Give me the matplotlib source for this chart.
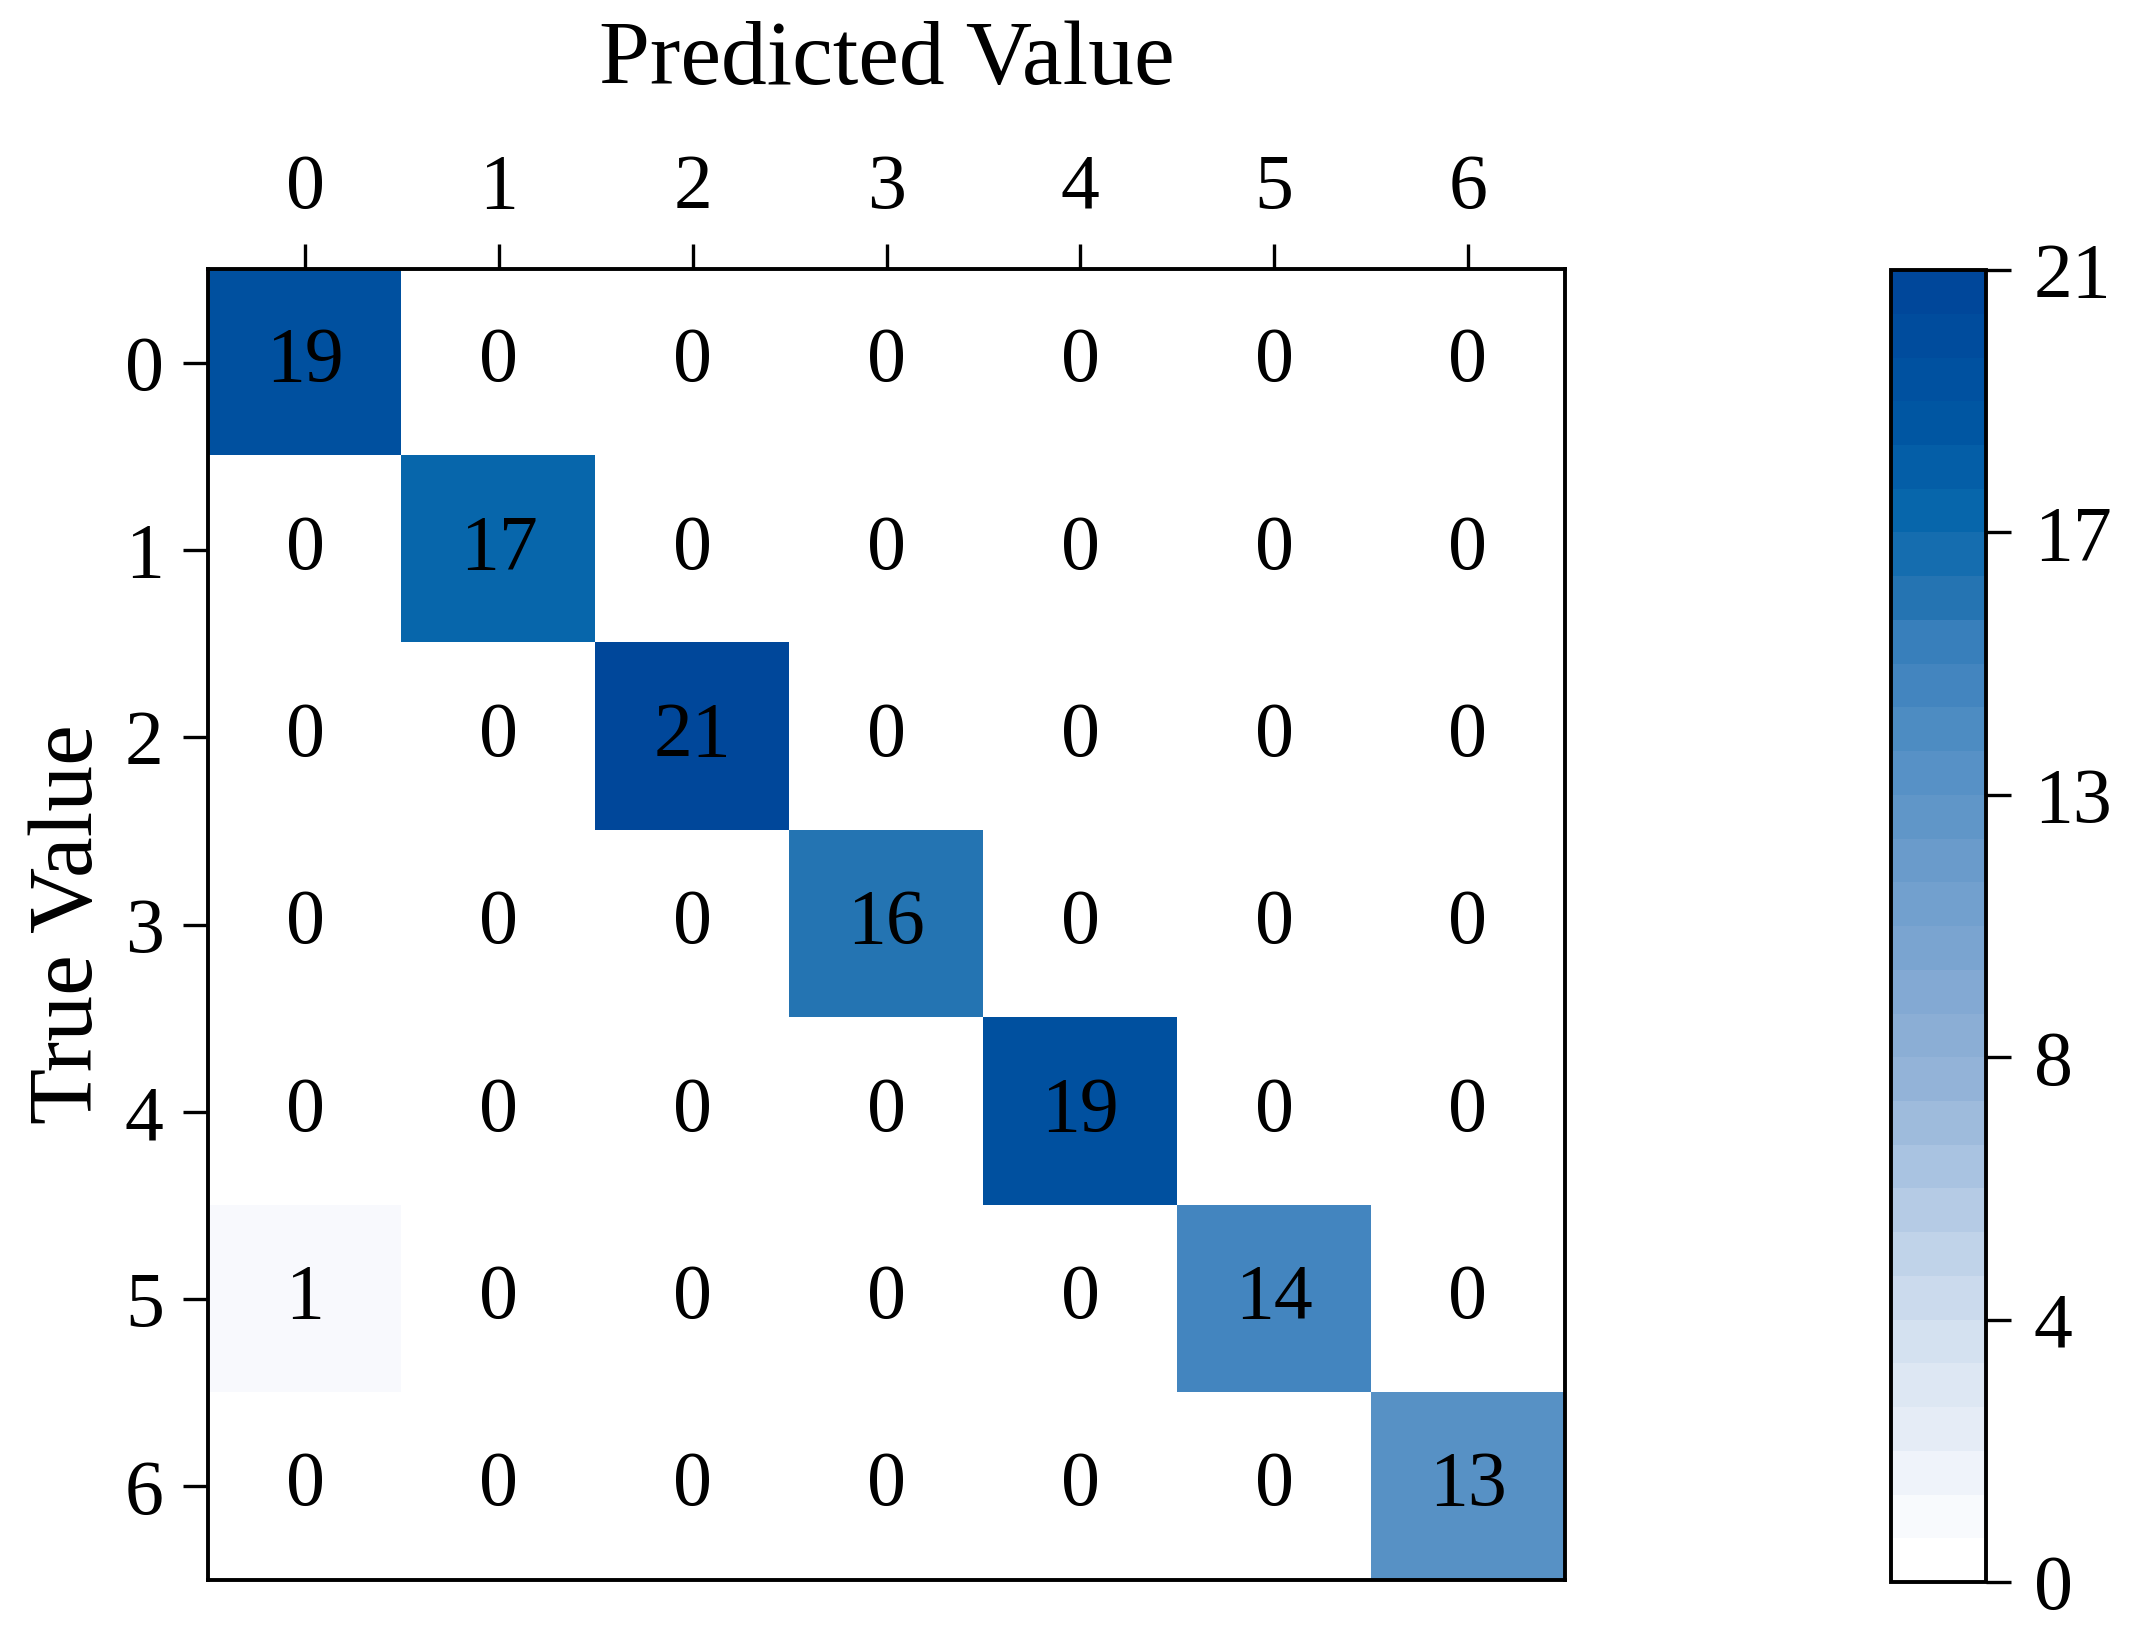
import numpy as np
import matplotlib
matplotlib.use("Agg")
import matplotlib.pyplot as plt
from matplotlib.colors import LinearSegmentedColormap, Normalize


# ── Data ─────────────────────────────────────────────────────────────────────
class_labels = ["0", "1", "2", "3", "4", "5", "6"]
confusion = np.array([
    [19, 0, 0, 0, 0, 0, 0],
    [0, 17, 0, 0, 0, 0, 0],
    [0, 0, 21, 0, 0, 0, 0],
    [0, 0, 0, 16, 0, 0, 0],
    [0, 0, 0, 0, 19, 0, 0],
    [1, 0, 0, 0, 0, 14, 0],
    [0, 0, 0, 0, 0, 0, 13],
])
cbar_ticks = np.linspace(0, 21, 6)

# ── Style ────────────────────────────────────────────────────────────────────
plt.rcParams["font.family"] = ["Liberation Serif", "DejaVu Serif"]
LABEL_SIZE = 28
TITLE_SIZE = 33

cmap = LinearSegmentedColormap.from_list(
    "cm_blues",
    [
        (0.00, "#ffffff"),
        (0.04, "#f7f9fd"),
        (0.10, "#e6edf6"),
        (0.20, "#cddcee"),
        (0.38, "#93b3d8"),
        (0.55, "#6a9bcb"),
        (0.63, "#5590c5"),
        (0.72, "#3a80bc"),
        (0.76, "#2474b2"),
        (0.82, "#0868ac"),
        (0.90, "#0055a2"),
        (1.00, "#00479a"),
    ],
    N=30,
)

# ── Plot ─────────────────────────────────────────────────────────────────────
fig = plt.figure(figsize=(10.65, 8.17), dpi=200)
ax = fig.add_axes([0.0977, 0.0330, 0.6370, 0.8024])
norm = Normalize(vmin=0, vmax=confusion.max())
im = ax.imshow(confusion, cmap=cmap, norm=norm, aspect="auto", interpolation="nearest")

for i in range(confusion.shape[0]):
    for j in range(confusion.shape[1]):
        ax.text(j, i, str(confusion[i, j]), ha="center", va="center",
                fontsize=LABEL_SIZE, color="black")

ax.xaxis.tick_top()
ax.xaxis.set_label_position("top")
ax.set_xticks(range(len(class_labels)))
ax.set_yticks(range(len(class_labels)))
ax.set_xticklabels(class_labels)
ax.set_yticklabels(class_labels)
ax.tick_params(axis="both", direction="out", length=9, width=1.2,
               labelsize=LABEL_SIZE, pad=7)
ax.set_xlabel("Predicted Value", fontsize=TITLE_SIZE, labelpad=25)
ax.set_ylabel("True Value", fontsize=TITLE_SIZE, labelpad=5)
for spine in ax.spines.values():
    spine.set_linewidth(1.4)

cax = fig.add_axes([0.888, 0.0318, 0.0446, 0.8029])
cbar = fig.colorbar(im, cax=cax, ticks=cbar_ticks)
cbar.ax.set_yticklabels([f"{t:.0f}" for t in cbar_ticks])
cbar.ax.tick_params(direction="out", length=9, width=1.2,
                    labelsize=LABEL_SIZE, pad=8)
cbar.outline.set_linewidth(1.4)

fig.savefig("out.png", dpi=200)
plt.close(fig)
